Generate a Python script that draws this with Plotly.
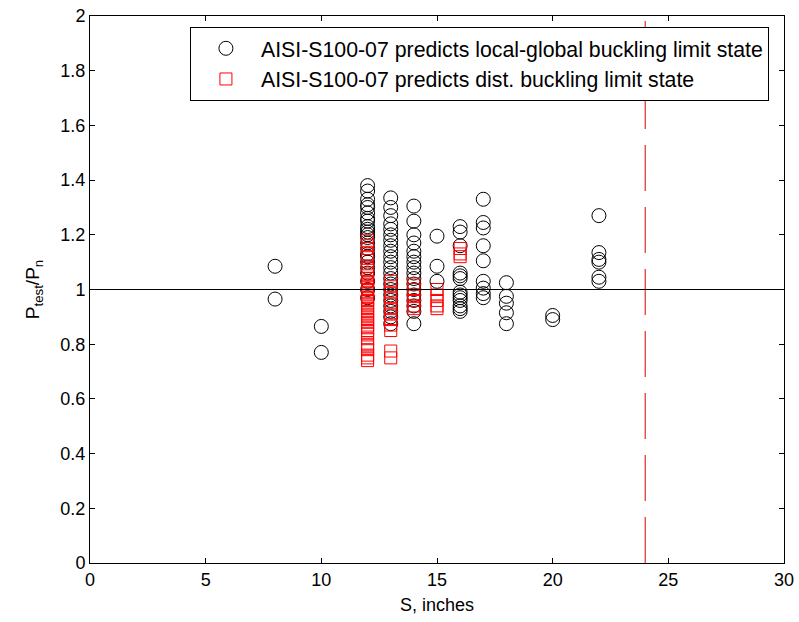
import plotly.graph_objects as go

# Local-global buckling limit state (circles): S value -> list of Ptest/Pn
circ_groups = {
    8: [1.085, 0.965],
    10: [0.865, 0.77],
    12: [1.38, 1.36, 1.33, 1.31, 1.30, 1.28, 1.26, 1.25, 1.23, 1.22, 1.21, 1.20,
         1.19, 1.17, 1.15, 1.13, 1.12, 1.10, 1.08, 1.06, 1.03, 1.00, 0.97],
    13: [1.335, 1.30, 1.27, 1.24, 1.22, 1.20, 1.18, 1.16, 1.14, 1.12, 1.10, 1.08,
         1.06, 1.04, 1.02, 1.00, 0.98, 0.96, 0.94, 0.92, 0.90, 0.875],
    14: [1.305, 1.25, 1.20, 1.17, 1.14, 1.12, 1.10, 1.08, 1.06, 1.04, 1.02, 1.00,
         0.98, 0.96, 0.94, 0.92, 0.875],
    15: [1.195, 1.085, 1.03],
    16: [1.23, 1.21, 1.16, 1.06, 1.05, 1.04, 0.99, 0.98, 0.97, 0.96, 0.94, 0.93, 0.92],
    17: [1.33, 1.245, 1.225, 1.16, 1.105, 1.03, 1.005, 0.985, 0.97],
    18: [1.025, 0.975, 0.95, 0.915, 0.875],
    20: [0.905, 0.89],
    22: [1.27, 1.135, 1.11, 1.10, 1.045, 1.03],
}

# Distortional buckling limit state (squares)
sq_groups = {
    12: [1.18, 1.16, 1.15, 1.13, 1.12, 1.085, 1.07, 1.06, 1.05, 1.04, 1.03, 1.02,
         1.01, 1.00, 0.99, 0.98, 0.97, 0.96, 0.95, 0.94, 0.93, 0.92, 0.91, 0.90,
         0.89, 0.88, 0.87, 0.86, 0.85, 0.84, 0.82, 0.80, 0.79, 0.78, 0.76, 0.75, 0.74],
    13: [1.03, 1.01, 0.99, 0.97, 0.95, 0.93, 0.91, 0.89, 0.87, 0.85, 0.775, 0.75],
    14: [1.02, 1.00, 0.98, 0.96, 0.94, 0.93],
    15: [1.00, 0.98, 0.96, 0.94, 0.93],
    16: [1.15, 1.13, 1.12],
}

ref_ratio = 1.0
s_limit = 24
x_ticks = [0, 5, 10, 15, 20, 25, 30]
y_ticks = [0, 0.2, 0.4, 0.6, 0.8, 1, 1.2, 1.4, 1.6, 1.8, 2]
y_tick_text = ["0", "0.2", "0.4", "0.6", "0.8", "1", "1.2", "1.4", "1.6", "1.8", "2"]

cx = [s for s, vals in circ_groups.items() for _ in vals]
cy = [v for vals in circ_groups.values() for v in vals]
sx = [s for s, vals in sq_groups.items() for _ in vals]
sy = [v for vals in sq_groups.values() for v in vals]

font = "Liberation Sans, Arial, sans-serif"

fig = go.Figure()
fig.add_trace(go.Scatter(
    x=cx, y=cy, mode="markers",
    name="AISI-S100-07 predicts local-global buckling limit state",
    marker=dict(symbol="circle-open", size=14, color="black", line=dict(width=1)),
))
fig.add_trace(go.Scatter(
    x=sx, y=sy, mode="markers",
    name="AISI-S100-07 predicts dist. buckling limit state",
    marker=dict(symbol="square-open", size=12, color="red", line=dict(width=1)),
))

fig.add_shape(type="line", xref="paper", yref="y", x0=0, x1=1, y0=ref_ratio, y1=ref_ratio,
              line=dict(color="black", width=1), layer="above")
fig.add_shape(type="line", xref="x", yref="paper", x0=s_limit, x1=s_limit, y0=0, y1=1,
              line=dict(color="#d40000", width=1, dash="46px,16px"), layer="below")

axis_common = dict(
    showgrid=False, zeroline=False, showline=True, linecolor="black", linewidth=1,
    mirror="ticks", ticks="inside", ticklen=5, tickcolor="black", automargin=False,
    tickfont=dict(family=font, size=18, color="black"),
)

fig.update_layout(
    width=799, height=622,
    margin=dict(l=90, r=15, t=16, b=59),
    paper_bgcolor="white", plot_bgcolor="white",
    font=dict(family=font, size=18, color="black"),
    showlegend=True,
    legend=dict(
        x=0.144, y=0.98, xanchor="left", yanchor="top",
        bgcolor="white", bordercolor="black", borderwidth=1,
        font=dict(family=font, size=21.3, color="black"),
        itemsizing="trace", tracegroupgap=0, itemwidth=60,
    ),
    xaxis=dict(range=[0, 30], tickvals=x_ticks,
               title=dict(text="S, inches", font=dict(family=font, size=18), standoff=9),
               **axis_common),
    yaxis=dict(range=[0, 2], tickvals=y_ticks, ticktext=y_tick_text,
               title=dict(text="P<sub>test</sub>/P<sub>n</sub>", font=dict(family=font, size=19)),
               **axis_common),
)

fig.write_html("out.html", config={"displayModeBar": False},
               post_script="document.body.style.margin='0px';")
